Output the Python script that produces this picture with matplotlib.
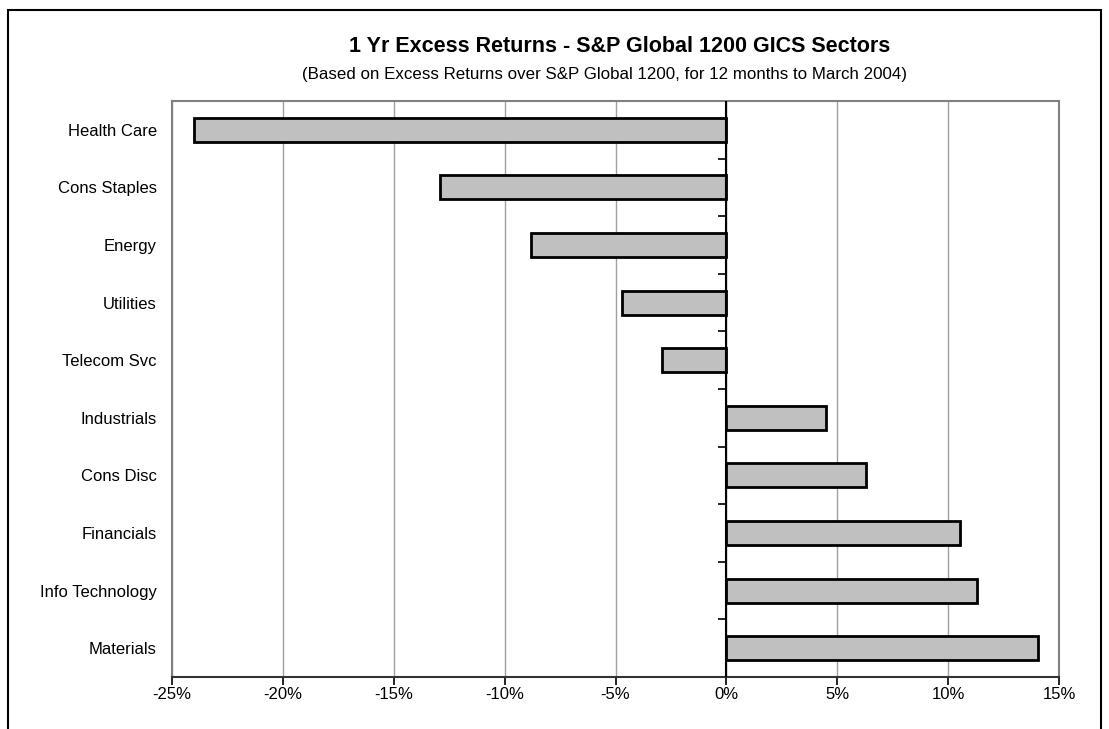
import matplotlib
matplotlib.use('Agg')
import matplotlib.pyplot as plt
import matplotlib.patches as mpatches
import numpy as np

plt.rcParams['font.family'] = ['Liberation Sans', 'DejaVu Sans']

sectors = ['Health Care', 'Cons Staples', 'Energy', 'Utilities', 'Telecom Svc',
           'Industrials', 'Cons Disc', 'Financials', 'Info Technology', 'Materials']
excess = [-24.0, -12.9, -8.8, -4.7, -2.9, 4.5, 6.3, 10.55, 11.3, 14.05]
xticks = [-25, -20, -15, -10, -5, 0, 5, 10, 15]
xlabels = ['-25%', '-20%', '-15%', '-10%', '-5%', '0%', '5%', '10%', '15%']

W, H = 1109, 729
fig = plt.figure(figsize=(W / 100, H / 100), dpi=100)
ax = fig.add_axes([172 / W, 1 - 677 / H, (1059 - 172) / W, (677 - 101) / H])

# outer chart border
fig.patches.append(mpatches.Rectangle((8 / W, -0.05), (1101 - 8) / W, 1.05 - 10 / H,
                                      transform=fig.transFigure, fill=False,
                                      edgecolor='black', linewidth=1.5))

y = np.arange(len(sectors))
ax.barh(y, excess, height=0.42, color='#c0c0c0', edgecolor='black', linewidth=2, zorder=3)
ax.axvline(0, color='black', linewidth=1.5, zorder=4)

ax.set_xlim(-25, 15)
ax.set_ylim(len(sectors) - 0.5, -0.5)
ax.set_xticks(xticks)
ax.set_xticklabels(xlabels, fontsize=12)
ax.tick_params(axis='x', direction='out', length=6, width=1.2, pad=1, color='black')
ax.grid(axis='x', color='#a0a0a0', linewidth=1, zorder=0)

ax.set_yticks(y)
ax.set_yticklabels(sectors, fontsize=12)
ax.tick_params(axis='y', length=0, pad=11)

for s in ['left', 'right', 'top']:
    ax.spines[s].set_color('#808080')
    ax.spines[s].set_linewidth(1.5)
ax.spines['bottom'].set_color('#333333')
ax.spines['bottom'].set_linewidth(1.5)

# category separator ticks on the zero line
zero = ax.secondary_yaxis(25 / 40)
zero.spines['left'].set_visible(False)
zero.set_yticks(np.arange(len(sectors) + 1) - 0.5)
zero.set_yticklabels([])
zero.tick_params(axis='y', direction='in', length=6, width=1.2, color='black')

fig.text(620 / W, 1 - 46 / H, '1 Yr Excess Returns - S&P Global 1200 GICS Sectors',
         ha='center', va='center', fontsize=15.5, fontweight='bold')
fig.text(604 / W, 1 - 74 / H,
         '(Based on Excess Returns over S&P Global 1200, for 12 months to March 2004)',
         ha='center', va='center', fontsize=12.2)

plt.savefig('out.png', dpi=100)
